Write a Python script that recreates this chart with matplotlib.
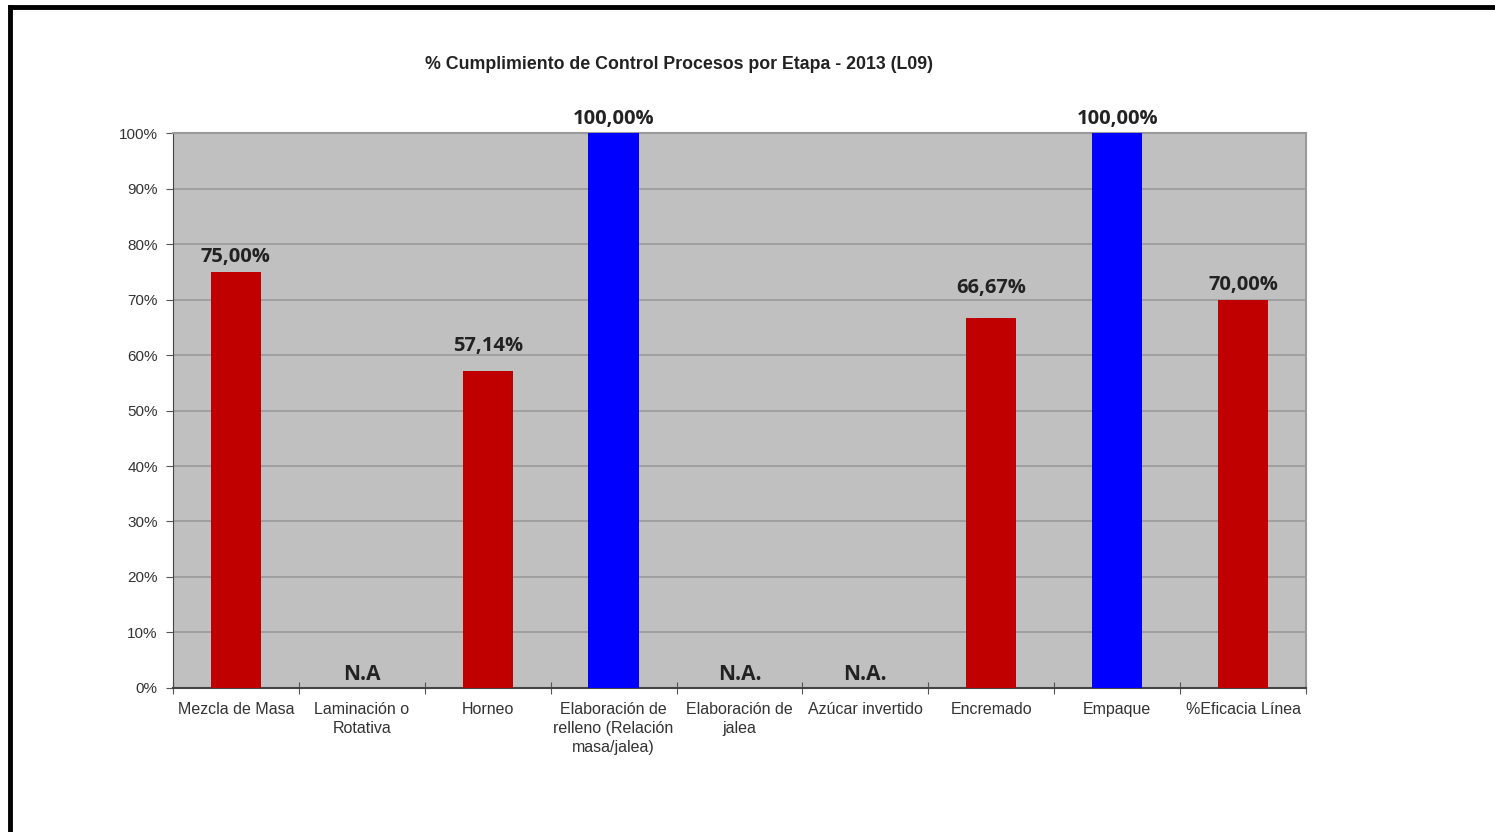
import matplotlib

matplotlib.use("Agg")
import matplotlib.pyplot as plt
from matplotlib.lines import Line2D
from matplotlib.ticker import FuncFormatter, MultipleLocator

TITLE = "% Cumplimiento de Control Procesos por Etapa - 2013 (L09)"
stages = [
    "Mezcla de Masa",
    "Laminación o\nRotativa",
    "Horneo",
    "Elaboración de\nrelleno (Relación\nmasa/jalea)",
    "Elaboración de\njalea",
    "Azúcar invertido",
    "Encremado",
    "Empaque",
    "%Eficacia Línea",
]
# None = stage not applicable
compliance = [75.00, None, 57.14, 100.00, None, None, 66.67, 100.00, 70.00]
na_labels = ["", "N.A", "", "", "N.A.", "N.A.", "", "", ""]

RED, BLUE, PLOT_BG, GRID = "#c00000", "#0000ff", "#c0c0c0", "#9a9a9a"
NARROW = ["Liberation Sans Narrow", "Liberation Sans", "DejaVu Sans"]
LABEL_FONT = ["Open Sans", "DejaVu Sans"]
# extra lift (in %) for value labels, the way the spreadsheet staggered them
label_lift = [0.8, 0, 2.6, 0.8, 0, 0, 3.6, 0.8, 0.8]

fig = plt.figure(figsize=(14.95, 8.32), dpi=100)
fig.patch.set_facecolor("white")
ax = fig.add_axes([0.1157, 0.1731, 0.7579, 0.667])
ax.set_facecolor(PLOT_BG)

x = list(range(len(stages)))
for i, v in enumerate(compliance):
    if v is None:
        ax.text(i, 0.6, na_labels[i], ha="center", va="bottom", fontsize=15,
                fontweight="bold", color="#222222", family=LABEL_FONT)
        continue
    color = BLUE if v >= 100 else RED
    ax.bar(i, v, width=0.4, color=color, zorder=3)
    ax.text(i, v + label_lift[i], f"{v:.2f}%".replace(".", ","), ha="center",
            va="bottom", fontsize=14.5, fontweight="bold", color="#222222",
            family=LABEL_FONT, zorder=4)

ax.set_xlim(-0.5, len(stages) - 0.5)
ax.set_ylim(0, 100)
ax.yaxis.set_major_locator(MultipleLocator(10))
ax.yaxis.set_major_formatter(FuncFormatter(lambda v, _: f"{v:.0f}%"))
ax.grid(axis="y", color=GRID, linewidth=1.2, zorder=1)
ax.set_axisbelow(True)

# category separators as ticks on the x axis
ax.set_xticks([i + 0.5 for i in x[:-1]] + [-0.5, len(stages) - 0.5])
ax.set_xticklabels([])
ax.tick_params(axis="x", which="major", direction="inout", length=8, color="#555555")
ax.set_xticks(x, minor=True)
ax.set_xticklabels(stages, minor=True, fontsize=11.5, color="#333333", family=NARROW,
                   linespacing=1.35)
ax.tick_params(axis="x", which="minor", length=0, pad=10)
ax.tick_params(axis="y", direction="out", length=5, color="#555555", labelsize=11,
               labelcolor="#333333", pad=6)
for lab in ax.get_yticklabels():
    lab.set_family(NARROW)

for side in ("top", "right"):
    ax.spines[side].set_color("#9a9a9a")
    ax.spines[side].set_linewidth(1.5)
ax.spines["left"].set_color("#444444")
ax.spines["bottom"].set_color("#444444")
ax.spines["bottom"].set_linewidth(1.5)

fig.text(0.454, 0.923, TITLE, ha="center", va="center", fontsize=12.8,
         fontweight="bold", color="#222222", family=NARROW)

# black frame on the left and top edges of the sheet
fig.add_artist(Line2D([0.0067, 0.0067], [0, 0.9916], color="black", linewidth=3.5,
                      transform=fig.transFigure))
fig.add_artist(Line2D([0.0067, 1.0], [0.9916, 0.9916], color="black", linewidth=3.5,
                      transform=fig.transFigure))

fig.savefig("out.png", dpi=100, facecolor="white")
